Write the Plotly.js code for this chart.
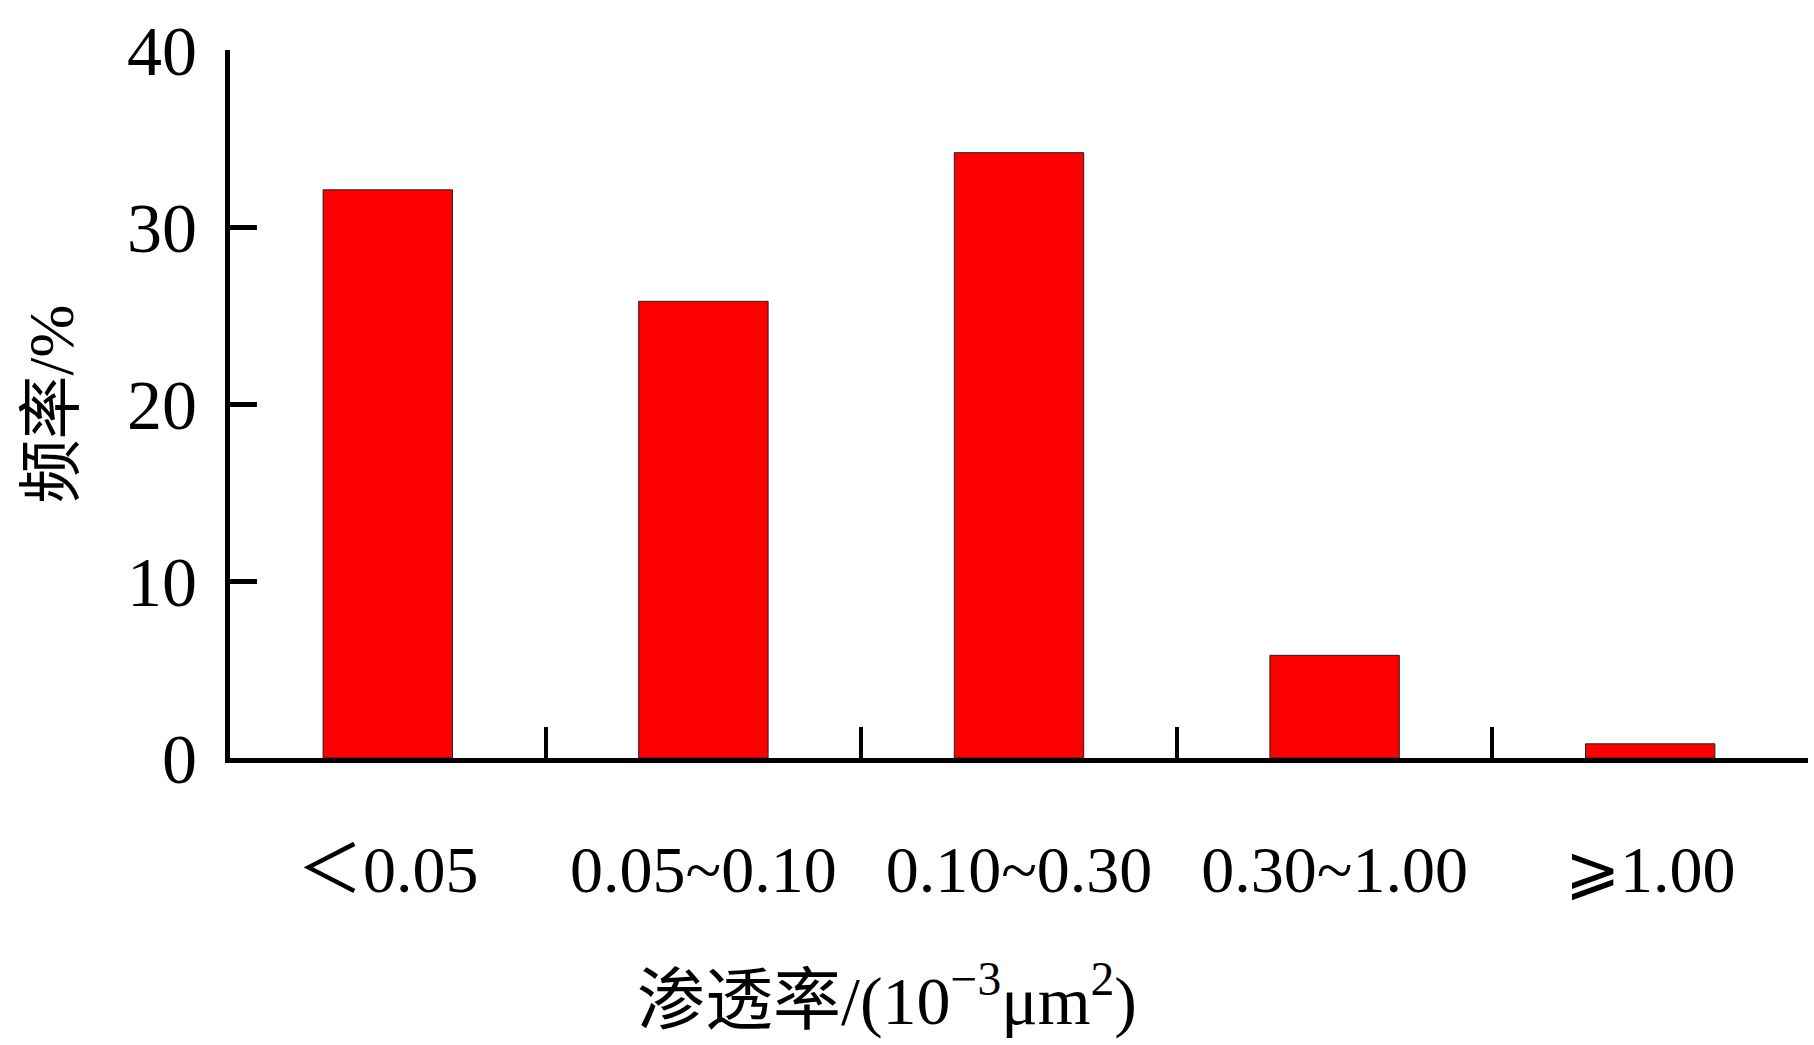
<!DOCTYPE html>
<html>
<head>
<meta charset="utf-8">
<script src="https://cdn.plot.ly/plotly-3.0.1.min.js"></script>
<style>html,body{margin:0;padding:0;background:#fff;}#chart{width:1814px;height:1045px;}</style>
</head>
<body>
<div id="chart"></div>
<script>
const categories = ["＜0.05", "0.05~0.10", "0.10~0.30", "0.30~1.00", "⩾1.00"];
const frequency = [32.1, 25.8, 34.2, 5.8, 0.8];
const yTickValues = [0, 10, 20, 30, 40];
const xTitle = "渗透率/(10<sup>−3</sup>μm<sup>2</sup>)";
const yTitle = "频率/%";

const FONT = "'Liberation Serif', 'Times New Roman', 'Noto Sans CJK SC', serif";

const trace = {
  type: "bar",
  x: categories,
  y: frequency,
  width: 0.41,
  marker: { color: "#ff0000", line: { color: "#222", width: 1 } },
  hoverinfo: "x+y"
};

const layout = {
  width: 1814,
  height: 1045,
  margin: { l: 230, r: 6, t: 50, b: 287 },
  paper_bgcolor: "#fff",
  plot_bgcolor: "#fff",
  showlegend: false,
  font: { family: FONT, color: "#000" },
  xaxis: {
    type: "category",
    showline: true,
    linecolor: "#000",
    linewidth: 5,
    showgrid: false,
    zeroline: false,
    ticks: "inside",
    tickson: "boundaries",
    ticklen: 31,
    tickwidth: 4,
    tickcolor: "#000",
    ticklabelstandoff: 50,
    tickfont: { family: FONT, size: 66, color: "#000" }
  },
  yaxis: {
    range: [0, 40],
    tickvals: yTickValues,
    ticktext: yTickValues.map(String),
    showline: true,
    linecolor: "#000",
    linewidth: 5,
    showgrid: false,
    zeroline: false,
    ticks: "inside",
    ticklen: 27,
    tickwidth: 5,
    tickcolor: "#000",
    ticklabelstandoff: 14,
    tickfont: { family: FONT, size: 70, color: "#000" },
    title: {
      text: yTitle,
      font: { family: FONT, size: 64, color: "#000" },
      standoff: 34
    }
  },
  annotations: [{
    text: xTitle,
    xref: "paper", yref: "paper",
    x: (887 - 230) / (1814 - 230 - 6),
    y: -(996 - 758) / (758 - 50),
    xanchor: "center", yanchor: "middle",
    showarrow: false,
    font: { family: FONT, size: 68, color: "#000" }
  }]
};

Plotly.newPlot("chart", [trace], layout, { staticPlot: true, displayModeBar: false });
</script>
</body>
</html>
